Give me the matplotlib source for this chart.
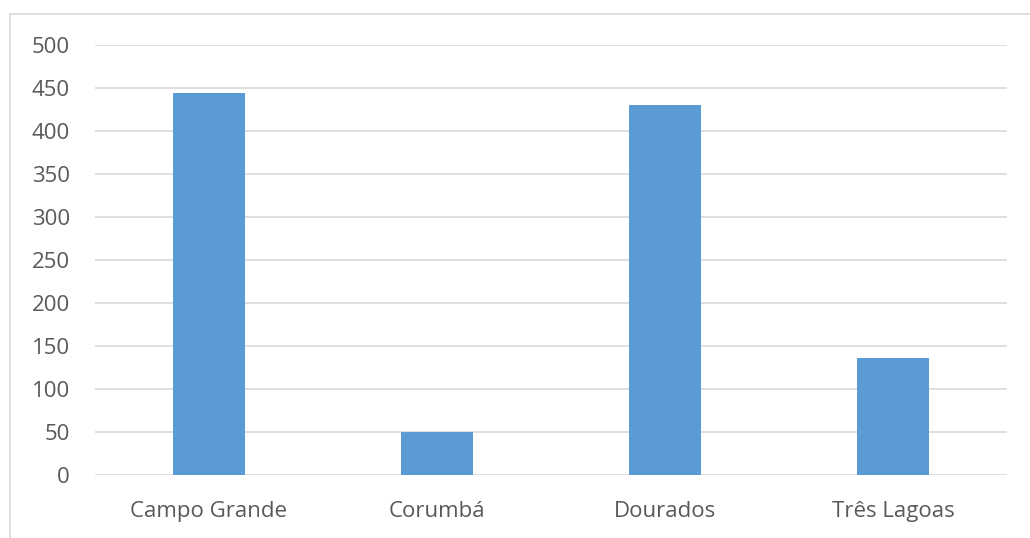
import matplotlib
matplotlib.use("Agg")
import matplotlib.pyplot as plt
from matplotlib.patches import Rectangle

# values
cidades = ["Campo Grande", "Corumbá", "Dourados", "Três Lagoas"]
valores = [444, 50, 430, 136]
yticks = [0, 50, 100, 150, 200, 250, 300, 350, 400, 450, 500]

plt.rcParams['font.family'] = ['Open Sans', 'DejaVu Sans']

fig = plt.figure(figsize=(10.3, 5.38), dpi=100)
ax = fig.add_axes([95 / 1030, 63 / 538, 912 / 1030, 430 / 538])

# chart area border like excel
fig.patches.append(Rectangle((10 / 1030, -0.1), 1.1, (524 / 538) + 0.1,
                             transform=fig.transFigure, fill=False,
                             edgecolor='#d9d9d9', linewidth=1.2))

x = range(len(cidades))
ax.bar(x, valores, width=0.32, color='#5b9bd5', zorder=3)

ax.set_xlim(-0.5, 3.5)
ax.set_ylim(0, 500)
ax.set_yticks(yticks)
ax.set_xticks(list(x))
ax.set_xticklabels(cidades)
ax.yaxis.grid(True, color='#d9d9d9', linewidth=1.2, zorder=0)
ax.tick_params(axis='both', length=0, labelsize=16, labelcolor='#595959')
ax.tick_params(axis='y', pad=18)
ax.tick_params(axis='x', pad=19)
for s in ax.spines.values():
    s.set_visible(False)

fig.savefig('out.png', dpi=100)
